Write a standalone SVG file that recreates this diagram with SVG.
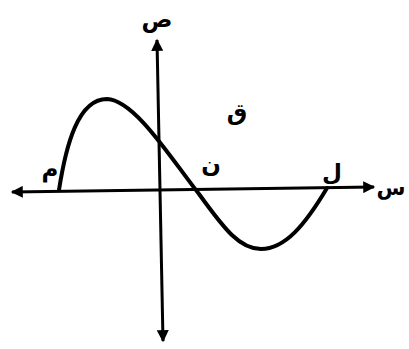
<svg xmlns="http://www.w3.org/2000/svg" width="409" height="349" viewBox="0 0 409 349">
<style>
.ax{stroke:#000;stroke-width:3;fill:none}
.cv{stroke:#000;stroke-width:4;fill:none;stroke-linecap:round}
.lb{font-family:"DejaVu Sans",sans-serif;font-weight:bold;font-size:23px;fill:#000;text-anchor:middle}
</style>
<defs>
<marker id="ah" viewBox="0 0 10 10" refX="9" refY="5" markerWidth="4.5" markerHeight="4" orient="auto-start-reverse" markerUnits="strokeWidth">
<path d="M0,0 L10,5 L0,10 Z" fill="#000"/>
</marker>
</defs>
<rect width="409" height="349" fill="#fff"/>
<g id="connectors">
<line id="x-axis" class="ax" x1="12" y1="192" x2="374" y2="187" marker-start="url(#ah)" marker-end="url(#ah)"/>
<line id="y-axis" class="ax" x1="157" y1="40" x2="163" y2="341" marker-start="url(#ah)" marker-end="url(#ah)"/>
<path id="curve" class="cv" d="M59,190 C66,145 78,99 107,99 C135,100 172,160 199,194 C225,230 240,249 261,249 C285,249 305,225 327,188"/>
</g>
<g id="label-sad"><text class="lb" x="157" y="27">ص</text></g>
<g id="label-sin"><text class="lb" x="391" y="195" style="font-size:21px">س</text></g>
<g id="label-qaf"><text class="lb" x="237" y="120">ق</text></g>
<g id="label-nun"><text class="lb" x="211" y="172">ن</text></g>
<g id="label-lam"><text class="lb" x="332" y="180">ل</text></g>
<g id="label-mim"><text class="lb" x="50" y="177">م</text></g>
</svg>
